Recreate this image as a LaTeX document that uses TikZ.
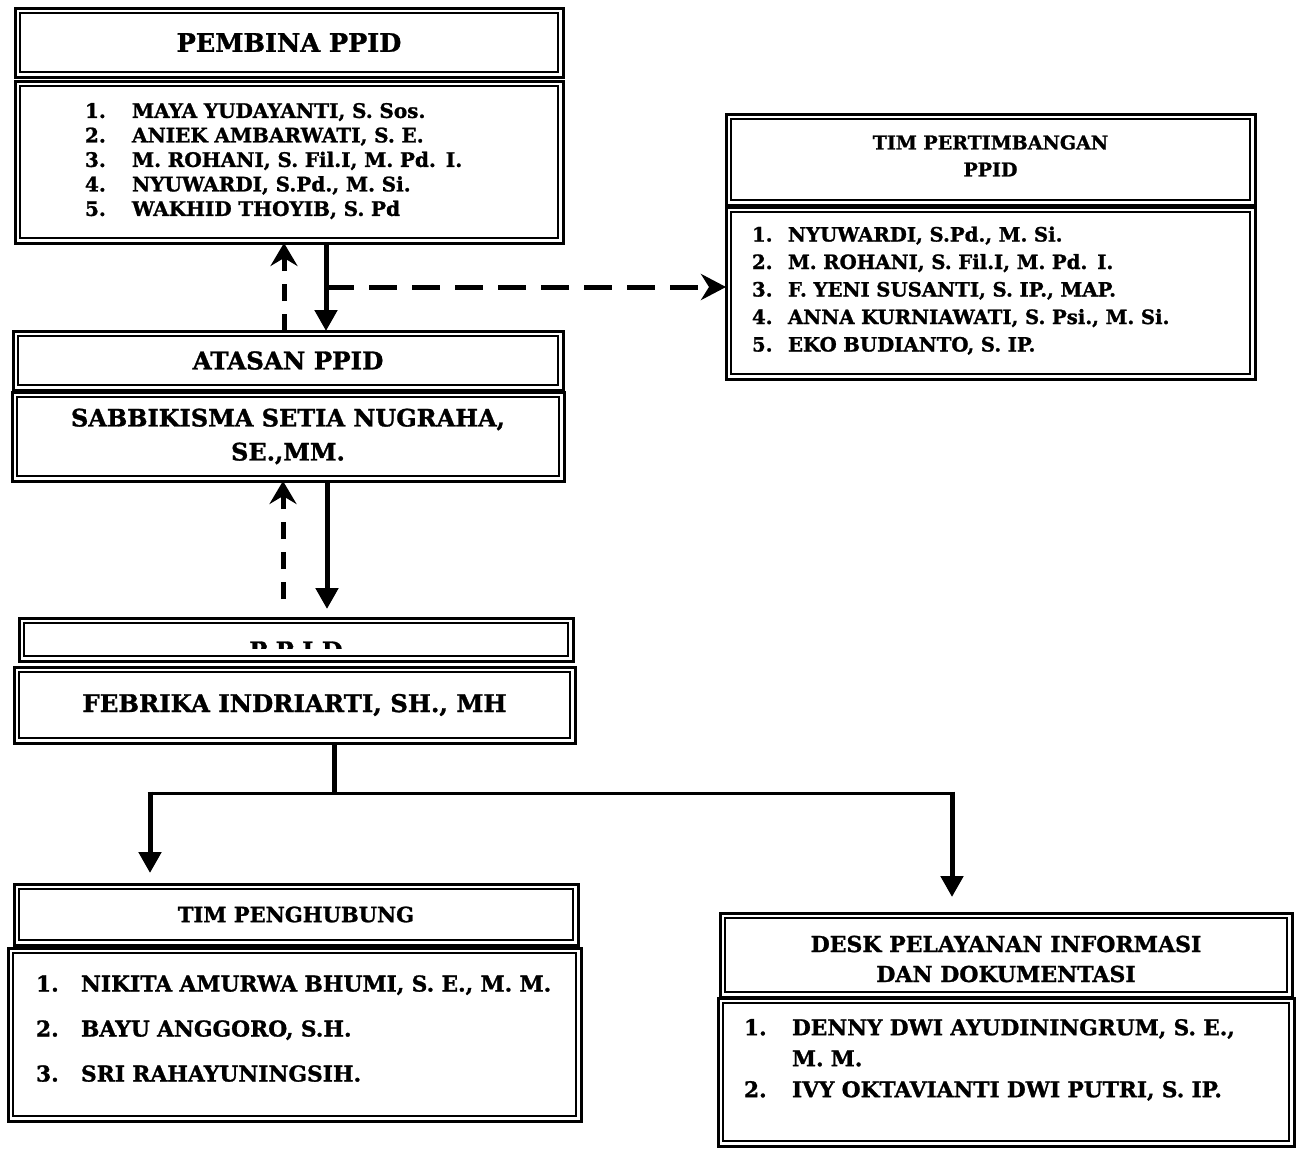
\documentclass[tikz,border=0pt]{standalone}
\usepackage{fontspec}
\setmainfont{DejaVu Serif}[BoldFeatures={FakeBold=1.2}]
\usetikzlibrary{arrows.meta,calc}
\begin{document}
\begin{tikzpicture}[x=1pt,y=-1pt,
  box/.style={draw, line width=3pt, outer sep=0pt, inner sep=0pt, anchor=north west, align=center,
    font=\bfseries,
    append after command={\pgfextra{\draw[line width=1.6pt] ($(\tikzlastnode.north west)+(4.8,4.8)$) rectangle ($(\tikzlastnode.south east)+(-4.8,-4.8)$);}}},
  solidarrow/.style={line width=5pt, -{Triangle[length=21pt,width=22pt]}},
  dashup/.style={line width=5pt, dash pattern=on 17pt off 13pt, -{Stealth[length=23pt,width=27pt,inset=8pt]}},
  dashright/.style={line width=5pt, dash pattern=on 28pt off 15pt, -{Stealth[length=25pt,width=26pt,inset=8pt]}},
]
\useasboundingbox (0,0) rectangle (1296,1149);
\fill[white] (0,0) rectangle (1296,1149);

% PEMBINA PPID
\node[box, minimum width=548pt, minimum height=69pt, font=\bfseries\fontsize{25.5}{30}\selectfont] (pembinaT) at (15,8) {PEMBINA PPID};
\node[box, minimum width=548pt, minimum height=162pt, font=\bfseries\fontsize{20}{24.5}\selectfont, text width=408pt, align=left] (pembinaL) at (15,81)
 {\begin{tabular}{@{}p{47pt}@{}l@{}}1.&MAYA YUDAYANTI, S. Sos.\\2.&ANIEK AMBARWATI, S. E.\\3.&M. ROHANI, S. Fil.I, M. Pd. I.\\4.&NYUWARDI, S.Pd., M. Si.\\5.&WAKHID THOYIB, S. Pd\end{tabular}};

% TIM PERTIMBANGAN
\node[box, minimum width=529pt, minimum height=91pt, font=\bfseries\fontsize{19}{27}\selectfont] (timpT) at (726,114)
 {\raisebox{2pt}[\height][\depth]{\begin{tabular}{@{}c@{}}TIM PERTIMBANGAN\\PPID\end{tabular}}};
\node[box, minimum width=529pt, minimum height=172pt, font=\bfseries\fontsize{19.7}{27.5}\selectfont, text width=477pt, align=left] (timpL) at (726,207)
 {\raisebox{2pt}[\height][\depth]{\begin{tabular}{@{}p{36pt}@{}l@{}}1.&NYUWARDI, S.Pd., M. Si.\\2.&M. ROHANI, S. Fil.I, M. Pd. I.\\3.&F. YENI SUSANTI, S. IP., MAP.\\4.&ANNA KURNIAWATI, S. Psi., M. Si.\\5.&EKO BUDIANTO, S. IP.\end{tabular}}};

% ATASAN PPID
\node[box, minimum width=550pt, minimum height=59pt, font=\bfseries\fontsize{24.5}{28}\selectfont] (atasanT) at (13,331) {ATASAN PPID};
\node[box, minimum width=552pt, minimum height=89pt, font=\bfseries\fontsize{24}{34}\selectfont] (atasanL) at (12,392) {SABBIKISMA SETIA NUGRAHA,\\SE.,MM.};

% PPID
\node[box, minimum width=554pt, minimum height=43pt] (ppidT) at (19,618) {};
\begin{scope}
\clip (24,623) rectangle (568,648);
\node[anchor=base, font=\bfseries\fontsize{24}{30}\selectfont\addfontfeature{LetterSpace=35}] (ppidLabel) at (296,659) {PPID};
\end{scope}
\node[box, minimum width=561pt, minimum height=76pt, font=\bfseries\fontsize{24.4}{30}\selectfont] (ppidL) at (14,667) {FEBRIKA INDRIARTI, SH., MH};

% TIM PENGHUBUNG
\node[box, minimum width=564pt, minimum height=61pt, font=\bfseries\fontsize{21}{25}\selectfont] (penghT) at (14,884) {TIM PENGHUBUNG};
\node[box, minimum width=573pt, minimum height=173pt, font=\bfseries\fontsize{21.8}{45}\selectfont, text width=517pt, align=left] (penghL) at (8,948)
 {\raisebox{7pt}[\height][\depth]{\begin{tabular}{@{}p{45pt}@{}l@{}}1.&NIKITA AMURWA BHUMI, S. E., M. M.\\2.&BAYU ANGGORO, S.H.\\3.&SRI RAHAYUNINGSIH.\end{tabular}}};

% DESK
\node[box, minimum width=572pt, minimum height=84pt, font=\bfseries\fontsize{22}{30}\selectfont] (deskT) at (720,913)
 {\raisebox{-6pt}[\height][\depth]{\begin{tabular}{@{}c@{}}DESK PELAYANAN INFORMASI\\DAN DOKUMENTASI\end{tabular}}};
\node[box, minimum width=576pt, minimum height=148pt, font=\bfseries\fontsize{21.7}{31}\selectfont, text width=524pt, align=left, anchor=north west] (deskL) at (718,998)
 {\raisebox{12pt}[\height][\depth]{\begin{tabular}{@{}p{48pt}@{}l@{}}1.&DENNY DWI AYUDININGRUM, S. E.,\\&M. M.\\2.&IVY OKTAVIANTI DWI PUTRI, S. IP.\end{tabular}}};

% connectors
\coordinate (a1) at (326,0);
\coordinate (a2) at (284,0);
\coordinate (h1) at (326,287);
\draw[solidarrow] (pembinaL.south -| a1) -- (atasanT.north -| a1);
\draw[dashup] (atasanT.north -| a2) -- (pembinaL.south -| a2);
\draw[dashright] (h1) -- (timpL.west |- h1);

\coordinate (b1) at (327,0);
\coordinate (b2) at (283,0);
\draw[solidarrow, shorten >=9pt] (atasanL.south -| b1) -- (ppidT.north -| b1);
\draw[dashup, shorten <=19pt] (ppidT.north -| b2) -- (atasanL.south -| b2);

\coordinate (br) at (334,793);
\coordinate (bl) at (150,793);
\coordinate (brr) at (952,793);
\draw[line width=5pt] (ppidL.south -| br) -- (br);
\draw[line width=3pt] ($(bl)+(-2.5,0)$) -- ($(brr)+(2.5,0)$);
\draw[solidarrow, shorten >=11pt] ($(bl)+(0,-1.5)$) -- (penghT.north -| bl);
\draw[solidarrow, shorten >=16pt] ($(brr)+(0,-1.5)$) -- (deskT.north -| brr);
\end{tikzpicture}
\end{document}
